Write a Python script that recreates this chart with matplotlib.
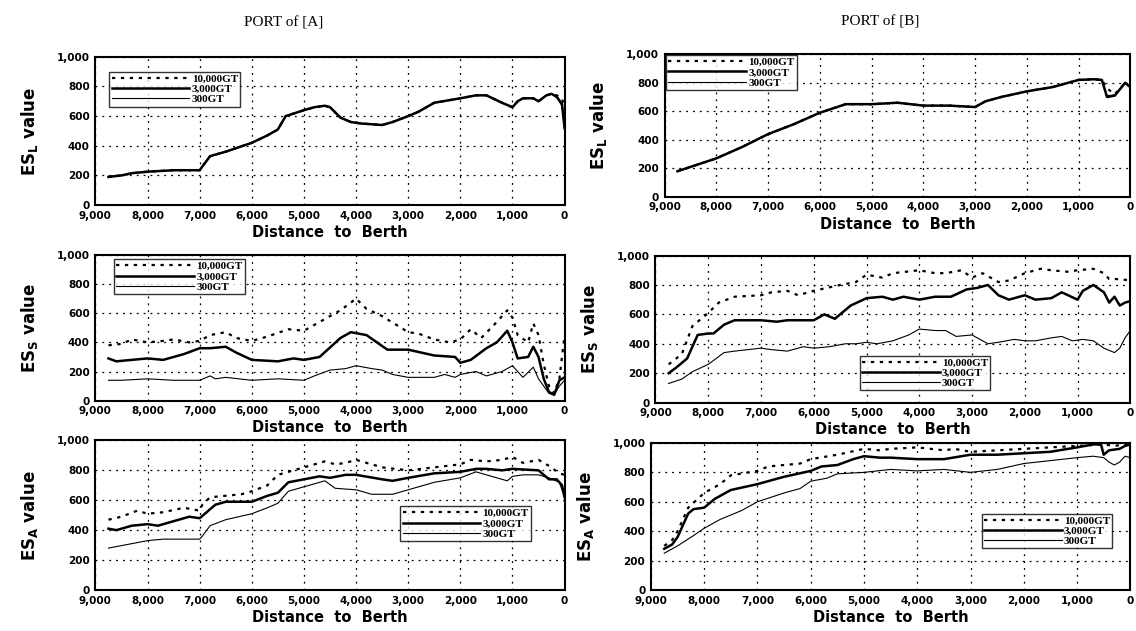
import numpy as np
import matplotlib
matplotlib.use("Agg")
import matplotlib.pyplot as plt
from matplotlib.ticker import FuncFormatter, MultipleLocator

# 데이터
series_names = ['10,000GT', '3,000GT', '300GT']

# PORT of [A] - ES_L
a_l_x = [8750, 8500, 8300, 8000, 7500, 7000, 6950, 6800, 6500, 6000, 5700, 5500, 5350, 5000,
         4800, 4600, 4500, 4300, 4100, 3900, 3500, 3300, 3000, 2800, 2500, 2000, 1700, 1500,
         1200, 1000, 900, 800, 600, 500, 350, 250, 150, 50, 0]
a_l_10000 = [190, 200, 215, 225, 235, 235, 260, 330, 360, 420, 470, 510, 600, 640,
             660, 670, 660, 590, 560, 550, 540, 560, 600, 630, 690, 720, 740, 740,
             690, 660, 700, 720, 720, 700, 740, 750, 740, 720, 650]
a_l_3000 = [190, 200, 215, 225, 235, 235, 260, 330, 360, 420, 470, 510, 600, 640,
            660, 670, 660, 590, 560, 550, 540, 560, 600, 630, 690, 720, 740, 740,
            690, 660, 700, 720, 720, 700, 740, 750, 730, 680, 520]
a_l_300 = [190, 200, 215, 225, 235, 235, 260, 330, 360, 420, 470, 510, 600, 640,
           660, 670, 660, 590, 560, 550, 540, 560, 600, 630, 690, 720, 740, 740,
           690, 660, 700, 720, 720, 700, 740, 750, 725, 670, 500]

# PORT of [B] - ES_L
b_l_x = [8750, 8500, 8000, 7500, 7000, 6500, 6000, 5500, 5000, 4500, 4000, 3500, 3000, 2800,
         2500, 2000, 1500, 1000, 700, 550, 450, 300, 100, 0]
b_l_10000 = [180, 210, 270, 350, 440, 510, 590, 650, 650, 660, 640, 640, 630, 670,
             700, 740, 770, 820, 825, 820, 760, 720, 800, 770]
b_l_3000 = [180, 210, 270, 350, 440, 510, 590, 650, 650, 660, 640, 640, 630, 670,
            700, 740, 770, 820, 825, 820, 700, 710, 800, 770]
b_l_300 = [180, 210, 270, 350, 440, 510, 590, 650, 650, 660, 640, 640, 630, 670,
           700, 740, 770, 820, 825, 820, 710, 715, 800, 775]

# PORT of [A] - ES_S
a_s_x10 = [8750, 8500, 8300, 8000, 7700, 7500, 7200, 7000, 6800, 6500, 6300, 6000, 5700, 5300,
           5000, 4700, 4300, 4000, 3800, 3500, 3000, 2800, 2500, 2200, 2000, 1800, 1600, 1300,
           1100, 1000, 900, 700, 600, 500, 400, 300, 200, 100, 0]
a_s_10000 = [380, 390, 420, 400, 410, 420, 400, 410, 450, 470, 430, 410, 440, 490,
             480, 540, 620, 700, 630, 580, 470, 460, 420, 400, 420, 490, 430, 540,
             620, 570, 450, 400, 530, 450, 250, 100, 50, 150, 450]
a_s_x3 = [8750, 8600, 8300, 8000, 7700, 7300, 7000, 6800, 6500, 6300, 6000, 5500, 5200, 5000,
          4700, 4300, 4100, 3800, 3600, 3400, 3000, 2500, 2100, 2000, 1800, 1500, 1300, 1100,
          1000, 900, 700, 600, 500, 400, 300, 200, 100, 0]
a_s_3000 = [290, 270, 280, 290, 280, 320, 360, 360, 370, 330, 280, 270, 290, 280,
            300, 430, 470, 450, 400, 350, 350, 310, 300, 260, 280, 360, 400, 480,
            400, 290, 300, 370, 300, 150, 60, 40, 140, 160]
a_s_x300 = [8750, 8500, 8000, 7500, 7000, 6800, 6700, 6500, 6000, 5500, 5000, 4800, 4500, 4200,
            4000, 3700, 3500, 3300, 3000, 2500, 2300, 2100, 2000, 1700, 1500, 1200, 1000, 900,
            800, 600, 500, 300, 200, 100, 0]
a_s_300 = [140, 140, 150, 140, 140, 170, 150, 160, 140, 150, 140, 170, 210, 220,
           240, 220, 210, 180, 160, 160, 180, 160, 180, 200, 170, 200, 240, 200,
           160, 230, 150, 50, 40, 100, 140]

# PORT of [B] - ES_S
b_s_x10 = [8750, 8500, 8300, 8000, 7800, 7500, 7000, 6800, 6500, 6300, 6000, 5500, 5200, 5000,
           4700, 4500, 4000, 3700, 3500, 3200, 3000, 2800, 2500, 2300, 2000, 1700, 1500, 1200,
           1000, 700, 500, 400, 200, 0]
b_s_10000 = [260, 330, 520, 610, 680, 720, 730, 750, 760, 730, 760, 800, 820, 870,
             850, 880, 900, 880, 880, 900, 850, 880, 820, 830, 880, 910, 900, 890,
             900, 910, 880, 840, 840, 830]
b_s_x3 = [8750, 8600, 8400, 8200, 8000, 7900, 7700, 7500, 7000, 6700, 6500, 6000, 5800, 5600,
          5300, 5000, 4700, 4500, 4300, 4000, 3700, 3400, 3100, 2900, 2700, 2500, 2300, 2000,
          1800, 1500, 1300, 1000, 900, 700, 500, 400, 300, 200, 100, 0]
b_s_3000 = [200, 240, 300, 460, 470, 470, 530, 560, 560, 550, 560, 560, 600, 570,
            660, 710, 720, 700, 720, 700, 720, 720, 770, 780, 800, 730, 700, 730,
            700, 710, 750, 700, 760, 800, 750, 680, 720, 660, 680, 690]
b_s_x300 = [8750, 8500, 8300, 8000, 7700, 7500, 7000, 6800, 6500, 6200, 6000, 5700, 5400, 5200,
            5000, 4800, 4500, 4200, 4000, 3700, 3500, 3300, 3000, 2700, 2500, 2200, 2000, 1800,
            1500, 1300, 1100, 900, 700, 500, 300, 200, 100, 0]
b_s_300 = [130, 160, 210, 260, 340, 350, 370, 360, 350, 380, 370, 380, 400, 400,
           410, 400, 420, 460, 500, 490, 490, 450, 460, 400, 410, 430, 420, 420,
           440, 450, 420, 430, 420, 370, 340, 370, 440, 490]

# PORT of [A] - ES_A
a_a_x10 = [8750, 8500, 8200, 8000, 7700, 7300, 7000, 6950, 6800, 6500, 6200, 6000, 5700, 5500,
           5000, 4800, 4600, 4400, 4200, 4000, 3700, 3500, 3000, 2500, 2000, 1800, 1500, 1200,
           1000, 800, 500, 300, 100, 0]
a_a_10000 = [470, 490, 530, 510, 520, 550, 530, 570, 620, 630, 640, 660, 700, 770,
             820, 840, 860, 840, 850, 870, 840, 820, 800, 820, 840, 870, 860, 870,
             890, 850, 870, 830, 780, 770]
a_a_x3 = [8750, 8600, 8300, 8000, 7800, 7500, 7200, 7000, 6900, 6700, 6500, 6000, 5700, 5500,
          5300, 5000, 4700, 4500, 4200, 4000, 3500, 3300, 3000, 2500, 2000, 1700, 1500, 1200,
          1000, 500, 300, 150, 50, 0]
a_a_3000 = [410, 400, 430, 440, 430, 460, 490, 480, 510, 570, 590, 590, 630, 650,
            720, 740, 760, 750, 770, 770, 740, 730, 750, 780, 790, 810, 810, 800,
            810, 800, 740, 740, 700, 620]
a_a_x300 = [8750, 8300, 8000, 7700, 7500, 7000, 6950, 6800, 6500, 6000, 5700, 5500, 5300, 5000,
            4800, 4600, 4400, 4000, 3700, 3300, 3000, 2500, 2000, 1700, 1500, 1200, 1100, 1000,
            800, 500, 300, 100, 0]
a_a_300 = [280, 310, 330, 340, 340, 340, 360, 430, 470, 510, 550, 580, 660, 690,
           710, 730, 680, 670, 640, 640, 670, 720, 750, 790, 770, 740, 730, 760,
           770, 770, 750, 720, 620]

# PORT of [B] - ES_A
b_a_x10 = [8750, 8600, 8500, 8300, 8000, 7700, 7500, 7000, 6800, 6500, 6200, 6000, 5500, 5000,
           4700, 4500, 4000, 3500, 3300, 3000, 2500, 2000, 1500, 1000, 500, 300, 100, 0]
b_a_10000 = [300, 340, 400, 560, 660, 720, 780, 810, 840, 850, 860, 890, 920, 960,
             950, 960, 970, 950, 960, 940, 950, 960, 970, 980, 990, 980, 990, 1000]
b_a_x3 = [8750, 8600, 8500, 8300, 8200, 8000, 7800, 7500, 7000, 6800, 6500, 6000, 5800, 5500,
          5200, 5000, 4700, 4500, 4000, 3500, 3000, 2500, 2000, 1500, 1000, 700, 550, 500,
          400, 200, 100, 0]
b_a_3000 = [280, 310, 360, 520, 550, 560, 620, 680, 720, 740, 770, 810, 840, 850,
            890, 910, 900, 900, 890, 890, 920, 920, 930, 940, 970, 990, 990, 920,
            950, 960, 980, 990]
b_a_x300 = [8750, 8500, 8200, 8000, 7700, 7300, 7000, 6500, 6200, 6000, 5700, 5500, 5000, 4500,
            4000, 3500, 3000, 2500, 2000, 1500, 1000, 700, 500, 400, 300, 200, 100, 0]
b_a_300 = [250, 300, 370, 420, 480, 540, 600, 660, 690, 740, 760, 790, 800, 820,
           810, 820, 800, 820, 860, 880, 900, 910, 900, 870, 850, 870, 910, 900]

# 패널 정의
panels = [
    # (x10, y10, x3, y3, x300, y300, ylabel sub, legend anchor, position)
    (a_l_x, a_l_10000, a_l_x, a_l_3000, a_l_x, a_l_300, 'L', (0.03, 0.90), [0.084, 0.675, 0.413, 0.235]),
    (b_l_x, b_l_10000, b_l_x, b_l_3000, b_l_x, b_l_300, 'L', (0.003, 0.995), [0.585, 0.688, 0.410, 0.226]),
    (a_s_x10, a_s_10000, a_s_x3, a_s_3000, a_s_x300, a_s_300, 'S', (0.04, 0.97), [0.084, 0.365, 0.413, 0.231]),
    (b_s_x10, b_s_10000, b_s_x3, b_s_3000, b_s_x300, b_s_300, 'S', (0.43, 0.32), [0.577, 0.362, 0.418, 0.233]),
    (a_a_x10, a_a_10000, a_a_x3, a_a_3000, a_a_x300, a_a_300, 'A', (0.65, 0.56), [0.084, 0.065, 0.413, 0.237]),
    (b_a_x10, b_a_10000, b_a_x3, b_a_3000, b_a_x300, b_a_300, 'A', (0.69, 0.52), [0.573, 0.065, 0.422, 0.233]),
]

fig = plt.figure(figsize=(11.36, 6.31), dpi=100)
fmt = FuncFormatter(lambda v, p: f'{int(v):,}')

for x10, y10, x3, y3, x300, y300, sub, anchor, pos in panels:
    ax = fig.add_axes(pos)
    ax.plot(x10, y10, color='black', ls=(0, (1.5, 2.5)), lw=1.6, label=series_names[0])
    ax.plot(x3, y3, color='black', ls='-', lw=1.8, label=series_names[1])
    ax.plot(x300, y300, color='black', ls='-', lw=0.8, label=series_names[2])
    ax.set_xlim(9000, 0)
    ax.set_ylim(0, 1000)
    ax.xaxis.set_major_locator(MultipleLocator(1000))
    ax.yaxis.set_major_locator(MultipleLocator(200))
    ax.xaxis.set_major_formatter(fmt)
    ax.yaxis.set_major_formatter(fmt)
    ax.grid(True, color='black', ls=(0, (1.5, 4)), lw=0.9)
    ax.tick_params(length=0, labelsize=7.5, pad=4)
    for lab in ax.get_xticklabels() + ax.get_yticklabels():
        lab.set_fontweight('heavy')
    for s in ax.spines.values():
        s.set_linewidth(1.5)
    ax.set_xlabel('Distance  to  Berth', fontsize=10.5, fontweight='heavy', labelpad=3)
    ax.set_ylabel(r'ES$_\mathregular{' + sub + r'}$ value', fontsize=12, fontweight='bold',
                  family='DejaVu Sans', labelpad=12)
    leg = ax.legend(loc='upper left', bbox_to_anchor=anchor, frameon=True,
                    fancybox=False, edgecolor='black', handlelength=7, handletextpad=0.2,
                    borderpad=0.2, labelspacing=0.05, borderaxespad=0,
                    prop={'family': 'Liberation Serif', 'weight': 'bold', 'size': 8})
    leg.get_frame().set_linewidth(1.0)

fig.text(0.25, 0.963, 'PORT of [A]', ha='center', va='center', fontsize=11, family='Liberation Serif')
fig.text(0.775, 0.966, 'PORT of [B]', ha='center', va='center', fontsize=11, family='Liberation Serif')

fig.savefig('out.png', dpi=100)
